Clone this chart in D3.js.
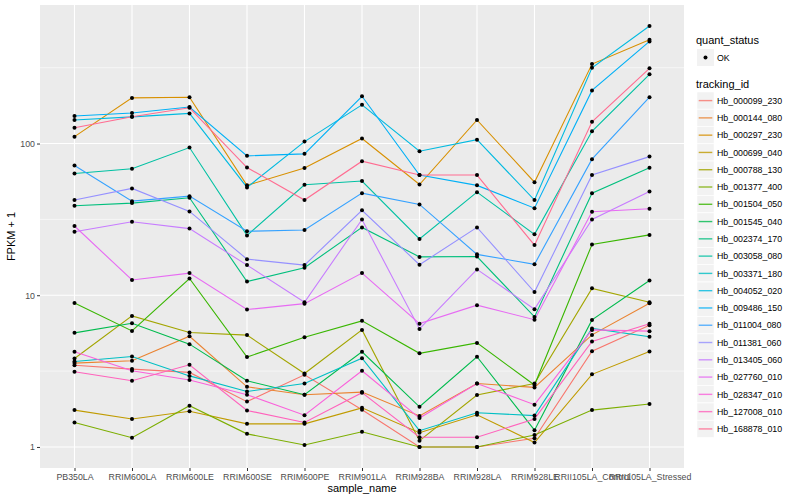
<!DOCTYPE html>
<html><head><meta charset="utf-8">
<script src="https://cdn.jsdelivr.net/npm/d3@7"></script>
<style>body{margin:0;background:#fff}svg{display:block}</style>
</head><body><svg id="chart" width="800" height="500"></svg>
<script>
const categories = ["PB350LA","RRIM600LA","RRIM600LE","RRIM600SE","RRIM600PE","RRIM901LA","RRIM928BA","RRIM928LA","RRIM928LE","RRII105LA_Control","RRII105LA_Stressed"];
const seriesNames = ["Hb_000099_230","Hb_000144_080","Hb_000297_230","Hb_000699_040","Hb_000788_130","Hb_001377_400","Hb_001504_050","Hb_001545_040","Hb_002374_170","Hb_003058_080","Hb_003371_180","Hb_004052_020","Hb_009486_150","Hb_011004_080","Hb_011381_060","Hb_013405_060","Hb_027760_010","Hb_028347_010","Hb_127008_010","Hb_168878_010"];
const seriesColors = ["#F8766D","#EA8331","#D89000","#C09B00","#A3A500","#7CAE00","#39B600","#00BB4E","#00BF7D","#00C1A3","#00BFC4","#00BAE0","#00B0F6","#35A2FF","#9590FF","#C77CFF","#E76BF3","#FA62DB","#FF62BC","#FF6C91"];
const v_000099_230 = [3.46,3.26,3.10,1.99,2.99,1.76,1.00,1.00,1.14,4.28,6.35];
const v_000144_080 = [3.57,3.70,5.37,2.49,2.21,2.30,1.60,2.62,2.47,5.48,8.86];
const v_000297_230 = [111,200,202,53,68.9,108,53.7,143,55.6,334,483];
const v_000699_040 = [1.75,1.53,1.72,1.42,1.42,1.81,1.24,1.63,1.07,3.01,4.26];
const v_000788_130 = [3.83,7.31,5.68,5.46,3.05,5.91,1.10,2.20,2.62,11.1,9.0];
const v_001377_400 = [1.45,1.15,1.87,1.22,1.03,1.26,1.00,1.00,1.20,1.75,1.92];
const v_001504_050 = [8.9,5.82,12.9,3.91,5.29,6.78,4.14,4.85,2.56,21.6,25.0];
const v_001545_040 = [5.65,6.54,4.76,2.73,2.21,4.24,1.84,3.93,1.29,6.88,12.5];
const v_002374_170 = [38.9,40.5,43.9,12.3,15.2,28.0,17.9,18.0,7.2,47.1,69.2];
const v_003058_080 = [63.5,68.2,94.1,24.8,53.5,56.6,23.5,47.8,25.2,120.5,286];
const v_003371_180 = [3.66,3.95,2.94,2.32,2.62,3.85,1.28,1.68,1.61,6.04,5.32];
const v_004052_020 = [143,150,158,51.4,103,180,89,106,42.4,316,595];
const v_009486_150 = [152,159,174,83,85.5,205,62,53,37.5,224,471];
const v_011004_080 = [71.7,41.7,45.0,26.4,26.9,47.1,39.7,18.6,16.0,78.9,202];
const v_011381_060 = [42.4,50.6,35.7,17.3,15.8,36.3,15.9,28.0,10.5,62,82];
const v_013405_060 = [26.2,30.5,27.5,15.8,9.0,31.6,6.0,14.8,8.1,31.6,48.3];
const v_027760_010 = [28.6,12.6,14.0,8.05,8.8,14.0,6.5,8.6,6.9,35.5,37.2];
const v_028347_010 = [4.24,3.18,2.76,2.21,1.62,3.18,1.55,2.62,1.90,5.91,5.8];
const v_127008_010 = [3.13,2.73,3.48,1.74,1.45,2.28,1.16,1.16,1.53,4.96,6.48];
const v_168878_010 = [127,150,172,69.5,42.4,76.5,62,62,21.4,139,313];
const yTicks = [1,10,100];
const yTickLabels = ["1","10","100"];

const seriesValues = [v_000099_230,v_000144_080,v_000297_230,v_000699_040,v_000788_130,v_001377_400,v_001504_050,v_001545_040,v_002374_170,v_003058_080,v_003371_180,v_004052_020,v_009486_150,v_011004_080,v_011381_060,v_013405_060,v_027760_010,v_028347_010,v_127008_010,v_168878_010];
const series = seriesNames.map((n,i)=>({name:n,color:seriesColors[i],values:seriesValues[i]}));

const svg = d3.select("#chart");
const P = {l:40, r:684, t:5, b:468};
const x = d3.scalePoint().domain(categories).range([P.l,P.r]).padding(0.6);
const all = seriesValues.flat();
const lo = Math.log10(d3.min(all)), hi = Math.log10(d3.max(all)), pad = 0.05*(hi-lo);
const y = d3.scaleLog().domain([Math.pow(10,lo-pad), Math.pow(10,hi+pad)]).range([P.b,P.t]);

svg.append("rect").attr("x",P.l).attr("y",P.t).attr("width",P.r-P.l).attr("height",P.b-P.t).attr("fill","#EBEBEB");
const g = svg.append("g");
// minor grid
const minor = [Math.sqrt(10), Math.sqrt(1000), Math.sqrt(100000)].filter(v=>y(v)>=P.t && y(v)<=P.b);
g.selectAll(".mn").data(minor).enter().append("line").attr("x1",P.l).attr("x2",P.r).attr("y1",d=>y(d)).attr("y2",d=>y(d)).attr("stroke","#fff").attr("stroke-width",0.55);
g.selectAll(".mj").data(yTicks).enter().append("line").attr("x1",P.l).attr("x2",P.r).attr("y1",d=>y(d)).attr("y2",d=>y(d)).attr("stroke","#fff").attr("stroke-width",1.1);
g.selectAll(".vx").data(categories).enter().append("line").attr("y1",P.t).attr("y2",P.b).attr("x1",d=>x(d)).attr("x2",d=>x(d)).attr("stroke","#fff").attr("stroke-width",1.1);

const line = d3.line().x((d,i)=>x(categories[i])).y(d=>y(d));
svg.append("g").selectAll("path").data(series).enter().append("path")
  .attr("d",d=>line(d.values)).attr("fill","none").attr("stroke",d=>d.color).attr("stroke-width",1.1);
svg.append("g").selectAll("g").data(series).enter().append("g").selectAll("circle")
  .data(d=>d.values).enter().append("circle").attr("cx",(d,i)=>x(categories[i])).attr("cy",d=>y(d)).attr("r",2).attr("fill","#000");

// axes
const xAxis = svg.append("g").attr("transform",`translate(0,${P.b})`).call(d3.axisBottom(x).tickSize(3).tickPadding(3));
xAxis.select(".domain").remove();
xAxis.selectAll("line").attr("stroke","#333");
xAxis.selectAll("text").attr("fill","#4D4D4D").style("font-family","Liberation Sans, Arial, sans-serif").style("font-size","8.8px");
const yAxis = svg.append("g").attr("transform",`translate(${P.l},0)`).call(d3.axisLeft(y).tickValues(yTicks).tickFormat((d,i)=>yTickLabels[i]).tickSize(3).tickPadding(2));
yAxis.select(".domain").remove();
yAxis.selectAll("line").attr("stroke","#333");
yAxis.selectAll("text").attr("fill","#4D4D4D").style("font-family","Liberation Sans, Arial, sans-serif").style("font-size","8.8px");

svg.append("text").attr("x",(P.l+P.r)/2).attr("y",492).attr("text-anchor","middle").style("font-family","Liberation Sans, Arial, sans-serif").style("font-size","11px").text("sample_name");
svg.append("text").attr("transform",`translate(15,${(P.t+P.b)/2}) rotate(-90)`).attr("text-anchor","middle").style("font-family","Liberation Sans, Arial, sans-serif").style("font-size","11px").text("FPKM + 1");

// legend
const L = svg.append("g").style("font-family","Liberation Sans, Arial, sans-serif");
L.append("text").attr("x",696).attr("y",44).style("font-size","11px").text("quant_status");
L.append("rect").attr("x",697).attr("y",49).attr("width",17).attr("height",17).attr("fill","#F2F2F2");
L.append("circle").attr("cx",705.5).attr("cy",57.5).attr("r",2).attr("fill","#000");
L.append("text").attr("x",717).attr("y",60.5).style("font-size","8.8px").text("OK");
L.append("text").attr("x",696).attr("y",88).style("font-size","11px").text("tracking_id");
const items = L.selectAll(".it").data(series).enter().append("g").attr("transform",(d,i)=>`translate(697,${92+i*17.28})`);
items.append("rect").attr("width",17).attr("height",17).attr("fill","#F2F2F2").attr("stroke","#fff").attr("stroke-width",0.5);
items.append("line").attr("x1",1.7).attr("x2",15.3).attr("y1",8.6).attr("y2",8.6).attr("stroke",d=>d.color).attr("stroke-width",1.4).attr("opacity",0.8);
items.append("text").attr("x",20).attr("y",11.8).style("font-size","8.8px").attr("fill","#000").text(d=>d.name);
</script></body></html>
